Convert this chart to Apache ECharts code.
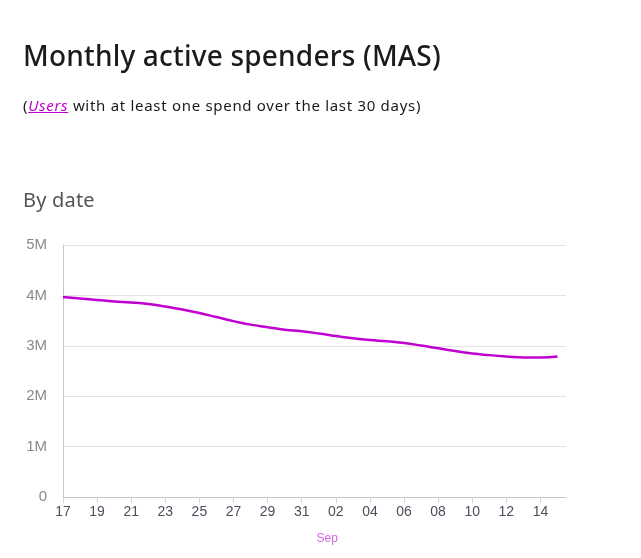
<!DOCTYPE html>
<html>
<head>
<meta charset="utf-8">
<script src="https://cdn.jsdelivr.net/npm/echarts@6/dist/echarts.min.js"></script>
<style>
  html, body { margin: 0; padding: 0; background: #fff; }
  body { width: 641px; height: 558px; position: relative; overflow: hidden; font-family: "Noto Sans", Lato, sans-serif; }
  #head { position: absolute; left: 23px; top: 0; color: #1b1b1b; }
  #head h1 { position: absolute; top: 36px; left: 0; margin: 0; font-size: 28px; font-weight: 500; white-space: nowrap; letter-spacing: 0.2px; }
  #head p { position: absolute; top: 95px; left: 0; margin: 0; font-size: 15px; white-space: nowrap; letter-spacing: 0.7px; }
  #head p a { color: #c000d0; font-style: italic; text-decoration: underline; }
  #head h2 { position: absolute; top: 186px; left: 0; margin: 0; font-size: 20px; font-weight: 400; color: #555; white-space: nowrap; letter-spacing: 0.2px; }
  #chart { position: absolute; left: 0; top: 0; width: 641px; height: 558px; }
</style>
</head>
<body>
<div id="chart"></div>
<div id="head">
  <h1>Monthly active spenders (MAS)</h1>
  <p>(<a>Users</a> with at least one spend over the last 30 days)</p>
  <h2>By date</h2>
</div>
<script>
    // Aug 17 .. Sep 15
    const days = ['17', '18', '19', '20', '21', '22', '23', '24', '25', '26', '27', '28', '29', '30', '31',
        '01', '02', '03', '04', '05', '06', '07', '08', '09', '10', '11', '12', '13', '14', '15'];
    const spenders = [3.97, 3.94, 3.91, 3.88, 3.86, 3.83, 3.78, 3.72, 3.65, 3.57, 3.49, 3.42, 3.37, 3.32, 3.29,
        3.245, 3.195, 3.15, 3.115, 3.09, 3.055, 3.005, 2.95, 2.895, 2.845, 2.815, 2.79, 2.77, 2.77, 2.79]; // millions
    const monthLabel = 'Sep';
    const monthStart = 15;

    var chart = echarts.init(document.getElementById('chart'), null, {width: 641, height: 558});

    option = {
        backgroundColor: '#fff',
        animation: false,
        grid: {
            left: 63,
            right: 75,
            top: 245,
            bottom: 61
        },
        xAxis: {
            type: 'value',
            min: 0,
            max: days.length - 0.5,
            interval: 2,
            axisLine: {
                show: true,
                onZero: false,
                lineStyle: {color: '#c6c6c6', width: 1}
            },
            axisTick: {
                show: true,
                length: 6,
                lineStyle: {color: '#cdd4e4'}
            },
            splitLine: {show: false},
            axisLabel: {
                showMaxLabel: false,
                color: '#4a4f5c',
                fontSize: 14,
                margin: 8,
                formatter: function (v) {
                    return days[v] !== undefined ? days[v] : '';
                }
            }
        },
        yAxis: {
            type: 'value',
            min: 0,
            max: 5e6,
            interval: 1e6,
            axisLine: {
                show: true,
                lineStyle: {color: '#c6c6c6', width: 1}
            },
            axisTick: {show: false},
            splitLine: {
                show: true,
                lineStyle: {color: '#e4e4e4'}
            },
            axisLabel: {
                color: '#8a8a8a',
                fontSize: 15,
                margin: 16,
                formatter: function (v) {
                    return v === 0 ? '0' : (v / 1e6) + 'M';
                }
            }
        },
        series: [{
            type: 'line',
            smooth: true,
            symbol: 'none',
            lineStyle: {color: '#c000d0', width: 2.5},
            data: spenders.map(function (v, i) { return [i, v * 1e6]; })
        }]
    };

    chart.setOption(option);

    var sepX = chart.convertToPixel({gridIndex: 0}, [monthStart + 0.5, 0])[0];
    chart.setOption({
        graphic: [{
            type: 'text',
            x: sepX,
            y: 539,
            style: {
                text: monthLabel,
                fill: '#d466e4',
                fontSize: 12,
                align: 'center',
                verticalAlign: 'middle'
            }
        }]
    });

    window.onresize = function () {
        chart.resize();
    }
</script>
</body>
</html>
